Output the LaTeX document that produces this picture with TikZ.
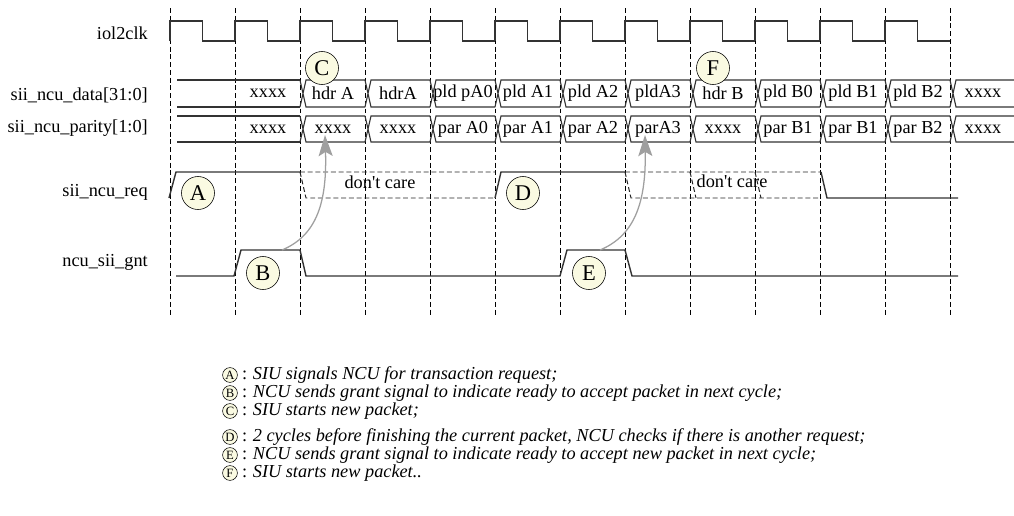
\documentclass[tikz,border=0pt]{standalone}
\usepackage{fontspec}
\setmainfont{Liberation Serif}
\usetikzlibrary{arrows.meta,positioning}
\definecolor{circfill}{RGB}{250,250,226}

\begin{document}
\begin{tikzpicture}[x=0.025cm, y=-0.025cm,
    sig/.style={line width=1pt, black!80},
    bus/.style={line width=0.8pt, black!80},
    grid/.style={line width=0.7pt, black, dash pattern=on 3.5pt off 2pt},
    dc/.style={line width=0.7pt, black!85, dash pattern=on 3.5pt off 2pt},
    signame/.style={anchor=east, inner sep=0pt, font=\fontsize{13}{15}\selectfont},
    bustxt/.style={inner sep=0pt, font=\fontsize{13}{15}\selectfont},
    event/.style={circle, draw, fill=circfill, minimum size=0.825cm, inner sep=0pt, font=\fontsize{16}{16}\selectfont},
    keydot/.style={circle, draw, fill=circfill, minimum size=0.37cm, inner sep=0pt, font=\fontsize{9}{9}\selectfont},
    note/.style={inner sep=0pt, font=\fontsize{13}{15}\selectfont},
    arr/.style={-{Stealth[length=15pt, width=10pt, inset=3pt]}, gray!75, line width=0.9pt}
]
\useasboundingbox (0,0) rectangle (1014,515);

\foreach \i in {0,...,12}
    \draw[grid] ({170+65*\i},8) -- ({170+65*\i},315);

\node[signame] (clk) at (148,33) {iol2clk};
\node[signame] (data) at (148,95) {sii\_ncu\_data[31:0]};
\node[signame] (parity) at (148,128) {sii\_ncu\_parity[1:0]};
\node[signame] (req) at (148,192) {sii\_ncu\_req};
\node[signame] (gnt) at (148,262) {ncu\_sii\_gnt};

\foreach \i in {0,...,11}
    \draw[sig] ({170+65*\i},41) -- ++(0,-20) -- ++(32.5,0) -- ++(0,20) -- ++(32.5,0);

\draw[bus] (177,80) -- (300,80) (177,107) -- (300,107);
\draw[bus] (177,116) -- (300,116) (177,142) -- (300,142);
\node[bustxt] (d0) at (268,93.5) {xxxx};
\node[bustxt] (p0) at (268,129) {xxxx};
\foreach \txt [count=\i] in {hdr A, hdrA, pld pA0, pld A1, pld A2, pldA3, hdr B, pld B0, pld B1, pld B2, xxxx} {
    \draw[bus] ({235+65*\i},80) -- ++(6,27) -- ++(59,0) ({235+65*\i},107) -- ++(6,-27) -- ++(59,0);
    \node[bustxt] (d\i) at ({268+65*\i},93.5) {\txt};
}
\foreach \txt [count=\i] in {xxxx, xxxx, par A0, par A1, par A2, parA3, xxxx, par B1, par B1, par B2, xxxx} {
    \draw[bus] ({235+65*\i},116) -- ++(6,26) -- ++(59,0) ({235+65*\i},142) -- ++(6,-26) -- ++(59,0);
    \node[bustxt] (p\i) at ({268+65*\i},129) {\txt};
}

\draw[sig] (169,198) -- (176,172) -- (300,172);
\draw[dc] (300,172) -- (495,172) (300,172) -- (306,198) -- (495,198);
\draw[sig] (495,198) -- (501,172) -- (625,172);
\draw[dc] (625,172) -- (821,172) (625,172) -- (631,198) -- (821,198)
    (690,172) -- (696,198) (755,172) -- (761,198);
\draw[sig] (821,172) -- (827,198) -- (958,198);
\node[bustxt] (dc1) at (380,182) {don\textquotesingle t care};
\node[bustxt] (dc2) at (732,181) {don\textquotesingle t care};

\draw[sig] (176,276) -- (234,276) -- (241,250) -- (300,250) -- (306,276) -- (560,276)
    -- (567,250) -- (625,250) -- (632,276) -- (958,276);

\coordinate (grantB) at (282,250);
\coordinate (grantE) at (600,250);
\coordinate (tipC) at (325,135);
\coordinate (tipF) at (645,135);
\draw[arr] (grantB) .. controls (318,235) and (327,200) .. (tipC);
\draw[arr] (grantE) .. controls (636,235) and (646,200) .. (tipF);

\node[event] (evA) at (198,193) {A};
\node[event] (evB) at (263,273) {B};
\node[event] (evC) at (322,68) {C};
\node[event] (evD) at (523,193) {D};
\node[event] (evE) at (589,273) {E};
\node[event] (evF) at (713,68) {F};

\node[keydot] (kA) at (230,375) {A};
\node[keydot] (kB) at (230,393) {B};
\node[keydot] (kC) at (230,411) {C};
\node[keydot] (kD) at (230,437) {D};
\node[keydot] (kE) at (230,455) {E};
\node[keydot] (kF) at (230,473) {F};
\node[note, right=3pt of kA] (nA) {:\hspace{4pt}\textit{SIU signals NCU for transaction request;}};
\node[note, right=3pt of kB] (nB) {:\hspace{4pt}\textit{NCU sends grant signal to indicate ready to accept packet in next cycle;}};
\node[note, right=3pt of kC] (nC) {:\hspace{4pt}\textit{SIU starts new packet;}};
\node[note, right=3pt of kD] (nD) {:\hspace{4pt}\textit{2 cycles before finishing the current packet, NCU checks if there is another request;}};
\node[note, right=3pt of kE] (nE) {:\hspace{4pt}\textit{NCU sends grant signal to indicate ready to accept new packet in next cycle;}};
\node[note, right=3pt of kF] (nF) {:\hspace{4pt}\textit{SIU starts new packet..}};
\end{tikzpicture}
\end{document}
